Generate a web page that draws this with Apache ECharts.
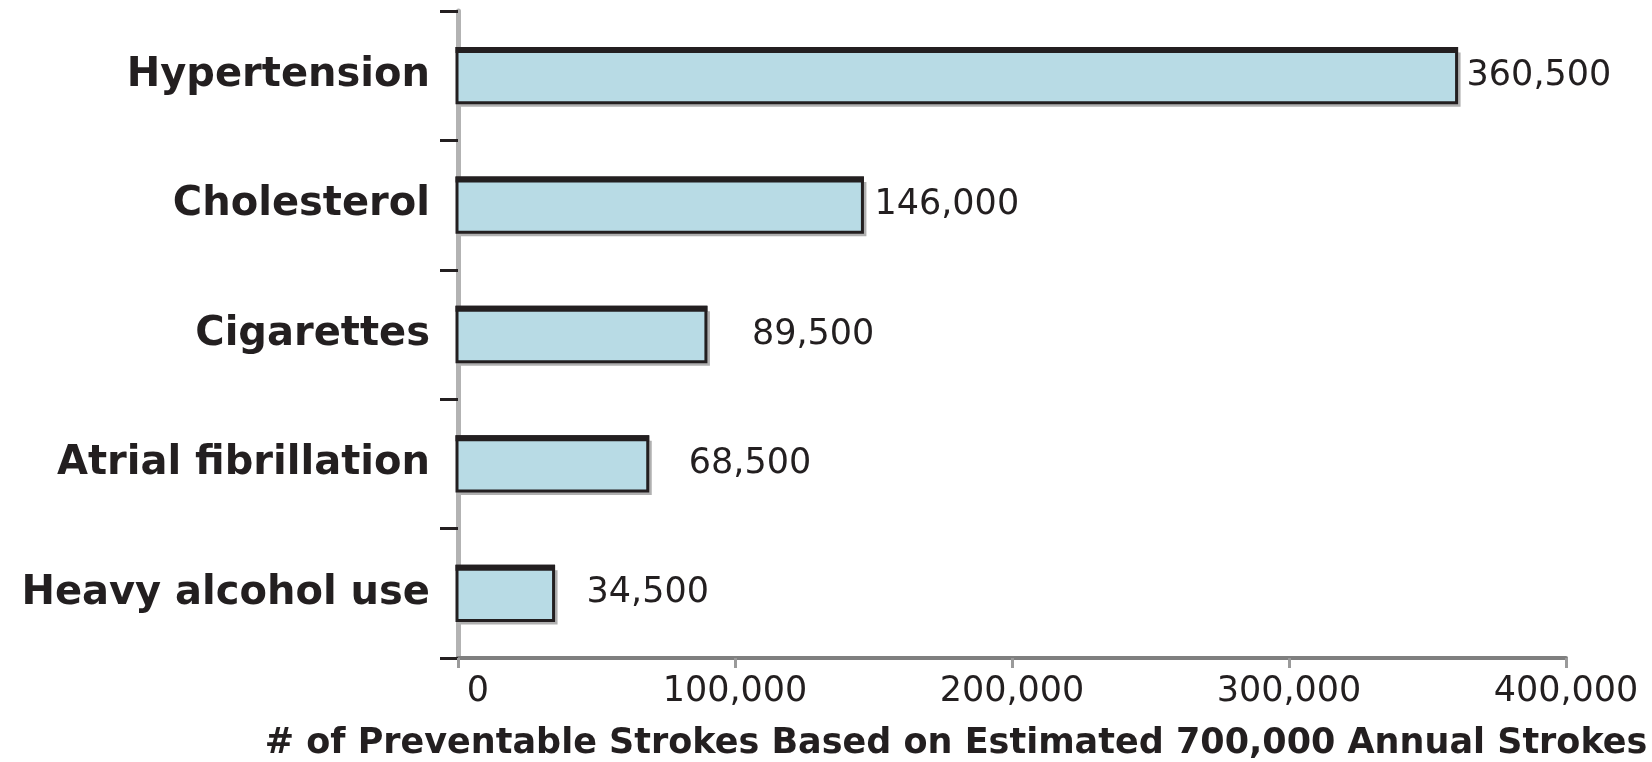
<!DOCTYPE html>
<html>
<head>
<meta charset="utf-8">
<script src="https://cdn.jsdelivr.net/npm/echarts@6/dist/echarts.min.js"></script>
<style>
html,body{margin:0;padding:0;background:#fff;}
#chart{width:1652px;height:762px;}
</style>
</head>
<body>
<div id="chart"></div>
<script>
// ---- data ----
var categories = ['Hypertension', 'Cholesterol', 'Cigarettes', 'Atrial fibrillation', 'Heavy alcohol use'];
var strokes = [360500, 146000, 89500, 68500, 34500];
var xTicks = [0, 100000, 200000, 300000, 400000];
var axisTitle = '# of Preventable Strokes Based on Estimated 700,000 Annual Strokes';

// ---- style (label gaps to the right of each bar, px) ----
var labelGap = [6, 8, 42, 37, 29];

function fmt(v) { return String(v).replace(/\B(?=(\d{3})+(?!\d))/g, ','); }

var ink = '#231f20';
var seriesData = strokes.map(function (v, i) { return [v, i]; });

var chart = echarts.init(document.getElementById('chart'));
chart.setOption({
  animation: false,
  backgroundColor: '#ffffff',
  grid: { left: 458, right: 86, top: 11, bottom: 104, containLabel: false, outerBoundsMode: 'none' },
  xAxis: {
    type: 'value',
    min: xTicks[0],
    max: xTicks[xTicks.length - 1],
    interval: xTicks[1] - xTicks[0],
    splitLine: { show: false },
    axisLine: { show: true, lineStyle: { color: '#7f7f7f', width: 4 } },
    axisTick: { show: true, length: 10, lineStyle: { color: '#9a9a9a', width: 3 } },
    axisLabel: {
      margin: 16,
      color: ink,
      fontFamily: 'DejaVu Sans',
      fontSize: 35,
      formatter: function (v) { return v === 0 ? '{z|0}' : fmt(v); },
      rich: { z: { fontFamily: 'DejaVu Sans', fontSize: 35, color: ink, padding: [0, 0, 0, 40] } }
    },
    name: axisTitle,
    nameLocation: 'middle',
    nameGap: 68,
    nameTextStyle: {
      color: ink,
      fontFamily: 'DejaVu Sans',
      fontWeight: 'bold',
      fontSize: 35,
      padding: [0, 112, 0, 0]
    }
  },
  yAxis: {
    type: 'category',
    data: categories,
    inverse: true,
    axisLine: { show: true, lineStyle: { color: '#b3b3b3', width: 5 } },
    axisTick: { show: true, length: 18, lineStyle: { color: ink, width: 3 } },
    axisLabel: {
      margin: 28,
      color: ink,
      fontFamily: 'DejaVu Sans',
      fontWeight: 'bold',
      fontSize: 40
    },
    splitLine: { show: false }
  },
  series: [{
    type: 'custom',
    encode: { x: 0, y: 1 },
    data: seriesData,
    renderItem: function (params, api) {
      var v = api.value(0), c = api.value(1);
      var p0 = api.coord([0, c]);
      var p1 = api.coord([v, c]);
      var band = api.size([0, 1])[1];
      var h = band * 0.42;
      var x = p0[0] - 1, y = p0[1] - h / 2, w = p1[0] - p0[0] + 1;
      return {
        type: 'group',
        children: [
          { type: 'rect', shape: { x: x + 4, y: y + 4, width: w, height: h }, style: { fill: '#b0b0b0' } },
          { type: 'rect', shape: { x: x, y: y, width: w, height: h }, style: { fill: '#b8dbe5', stroke: ink, lineWidth: 3 } },
          { type: 'rect', shape: { x: x - 1.5, y: y - 1.5, width: w + 3, height: 6 }, style: { fill: ink } },
          {
            type: 'text',
            style: {
              text: fmt(v),
              x: p1[0] + 4 + labelGap[params.dataIndex],
              y: p0[1],
              align: 'left',
              verticalAlign: 'middle',
              fill: ink,
              font: 'normal 35px "DejaVu Sans"'
            }
          }
        ]
      };
    }
  }]
});
</script>
</body>
</html>
